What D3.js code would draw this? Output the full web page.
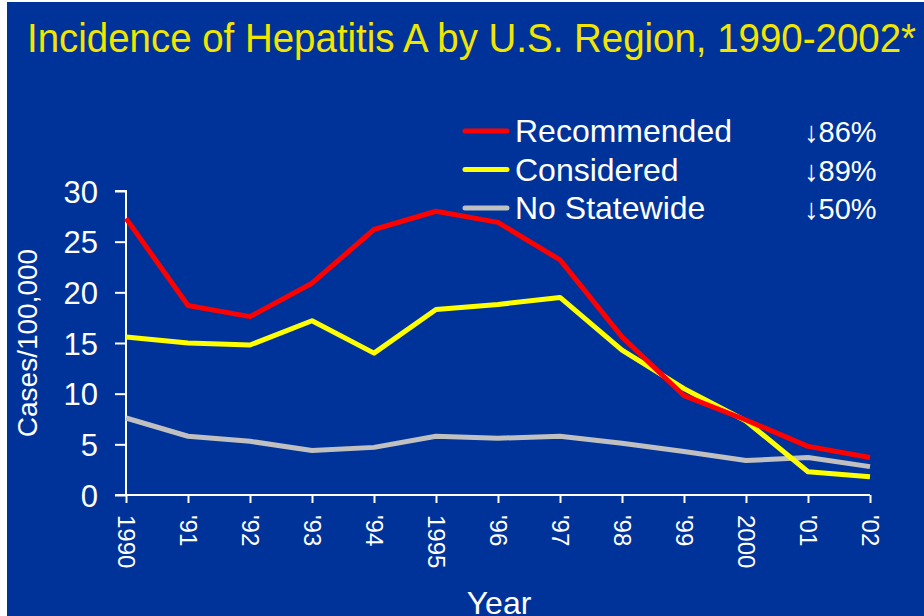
<!DOCTYPE html>
<html>
<head>
<meta charset="utf-8">
<script src="https://cdn.jsdelivr.net/npm/d3@7"></script>
<style>
  html, body { margin: 0; padding: 0; background: #ffffff; }
  svg { display: block; }
  text { font-family: "Liberation Sans", Arial, sans-serif; }
</style>
</head>
<body>
<div id="vis-container"></div>
<script>
// data
const years = ['1990', "'91", "'92", "'93", "'94", '1995', "'96", "'97", "'98", "'99", '2000', "'01", "'02"];
const recommended = [27.3, 18.7, 17.6, 20.9, 26.2, 28.0, 26.9, 23.2, 15.6, 9.8, 7.4, 4.8, 3.7];
const considered  = [15.6, 15.0, 14.8, 17.2, 14.0, 18.3, 18.8, 19.5, 14.3, 10.5, 7.3, 2.3, 1.8];
const noStatewide = [7.6, 5.8, 5.3, 4.4, 4.7, 5.8, 5.6, 5.8, 5.1, 4.3, 3.4, 3.7, 2.8];
const seriesNames = ['Recommended', 'Considered', 'No Statewide'];
const seriesDrops = ['\u219386%', '\u219389%', '\u219350%'];
const yTickValues = [0, 5, 10, 15, 20, 25, 30];

const width = 924;
const height = 616;

const padding = { top: 191, right: 54, bottom: 121, left: 126 };
const plotAreaWidth = width - padding.left - padding.right;
const plotAreaHeight = height - padding.top - padding.bottom;

const colors = ['#ff0000', '#ffff00', '#c0c0c0'];
const allSeries = [recommended, considered, noStatewide];

const xScale = d3.scalePoint().domain(years).range([0, plotAreaWidth]);
const yScale = d3.scaleLinear().domain([0, 30]).range([plotAreaHeight, 0]);

const svg = d3.select('#vis-container').append('svg')
  .attr('width', width)
  .attr('height', height);

// slide background
svg.append('rect')
  .attr('x', 7).attr('y', 2)
  .attr('width', width - 7).attr('height', height - 2)
  .attr('fill', '#003399');

svg.append('text')
  .attr('x', 27).attr('y', 52)
  .attr('fill', '#f2e600')
  .attr('font-size', 40)
  .attr('textLength', 889)
  .attr('lengthAdjust', 'spacingAndGlyphs')
  .text('Incidence of Hepatitis A by U.S. Region, 1990-2002*');

const g = svg.append('g')
  .attr('transform', `translate(${padding.left} ${padding.top})`);

// axes
const yAxis = d3.axisLeft(yScale).tickValues(yTickValues).tickSize(11).tickPadding(17);
const xAxis = d3.axisBottom(xScale).tickSize(8).tickPadding(0);

const yAxisG = g.append('g').call(yAxis);
const xAxisG = g.append('g').attr('transform', `translate(0 ${plotAreaHeight})`).call(xAxis);

[yAxisG, xAxisG].forEach(function (ax) {
  ax.select('.domain').attr('stroke', '#ffffff').attr('stroke-width', 2);
  ax.selectAll('.tick line').attr('stroke', '#ffffff').attr('stroke-width', 2);
  ax.selectAll('text').attr('fill', '#ffffff').attr('font-family', '"Liberation Sans", Arial, sans-serif');
});
yAxisG.select('.domain').attr('d', `M-11,0H0V${plotAreaHeight}H-11`);
xAxisG.select('.domain').attr('d', `M-11,0H${plotAreaWidth}`);
yAxisG.selectAll('text').attr('font-size', 31).attr('dy', '0.36em');

xAxisG.selectAll('text')
  .attr('font-size', 24)
  .attr('transform', 'rotate(90)')
  .attr('text-anchor', 'start')
  .attr('x', 20)
  .attr('y', 0)
  .attr('dy', '0.35em');

// axis titles
svg.append('text')
  .attr('transform', `translate(37 ${padding.top + plotAreaHeight / 2}) rotate(-90)`)
  .attr('text-anchor', 'middle')
  .attr('fill', '#ffffff')
  .attr('font-size', 28)
  .text('Cases/100,000');

svg.append('text')
  .attr('x', 499).attr('y', 614)
  .attr('text-anchor', 'middle')
  .attr('fill', '#ffffff')
  .attr('font-size', 32)
  .text('Year');

// lines
const line = d3.line()
  .x(function (d, i) { return xScale(years[i]); })
  .y(function (d) { return yScale(d); });

[2, 1, 0].forEach(function (k) {
  g.append('path')
    .datum(allSeries[k])
    .attr('fill', 'none')
    .attr('stroke', colors[k])
    .attr('stroke-width', 5)
    .attr('stroke-linejoin', 'round')
    .attr('d', line);
});

// legend
const legend = svg.append('g');
seriesNames.forEach(function (name, i) {
  const y = 131 + i * 38.5;
  legend.append('line')
    .attr('x1', 465).attr('x2', 507)
    .attr('y1', y).attr('y2', y)
    .attr('stroke', colors[i])
    .attr('stroke-width', 5)
    .attr('stroke-linecap', 'round');
  legend.append('text')
    .attr('x', 515).attr('y', y + 11)
    .attr('fill', '#ffffff')
    .attr('font-size', 32)
    .text(name);
  legend.append('text')
    .attr('x', 804).attr('y', y + 11)
    .attr('fill', '#ffffff')
    .attr('font-size', 29)
    .text(seriesDrops[i]);
});
</script>
</body>
</html>
